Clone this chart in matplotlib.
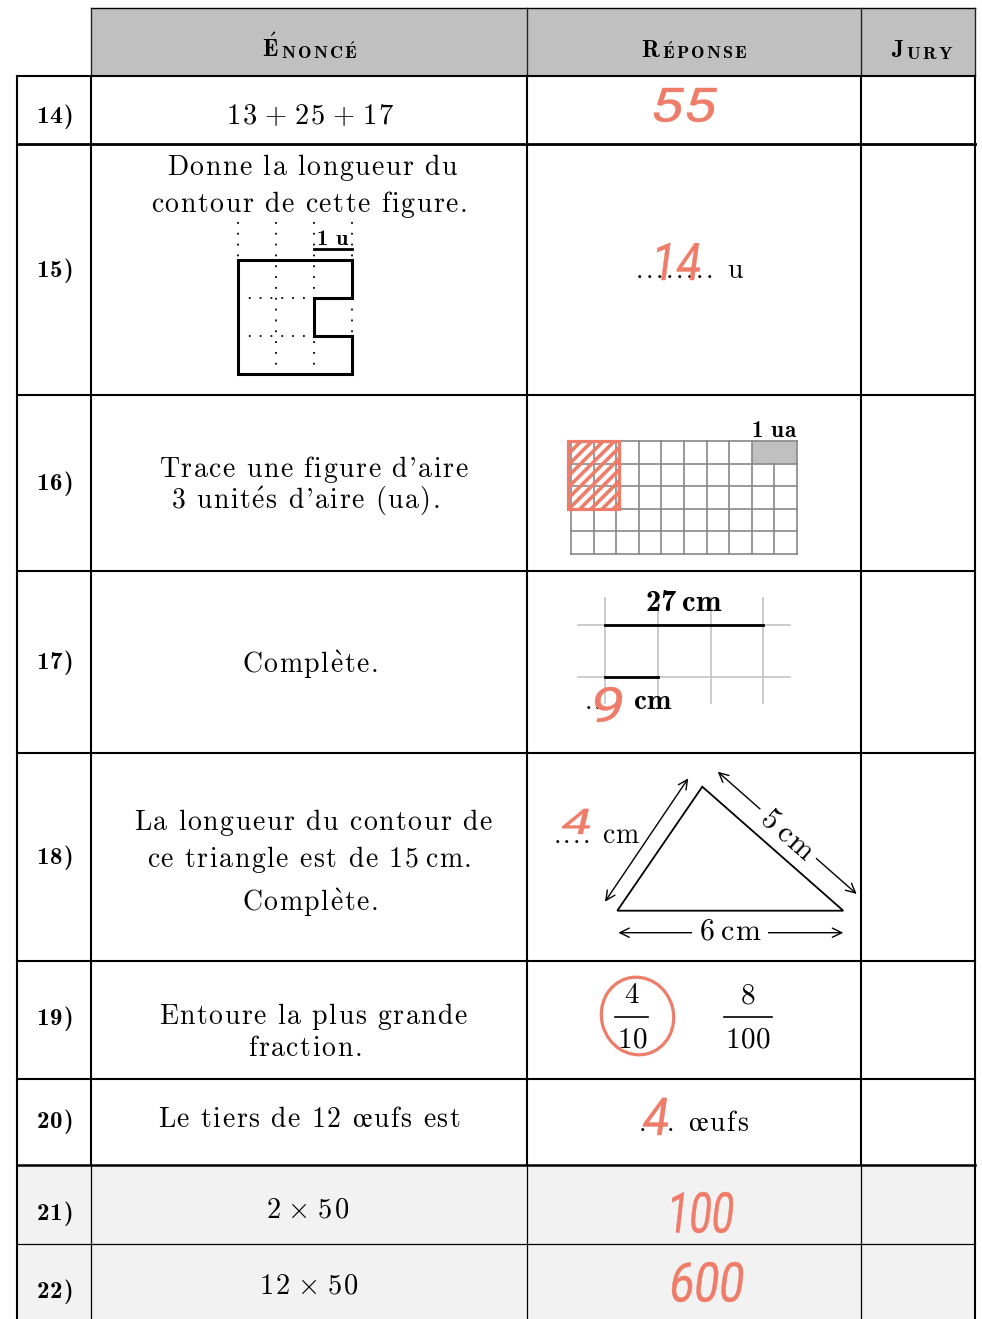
import numpy as np
import matplotlib
matplotlib.use("Agg")
import matplotlib.pyplot as plt
from matplotlib.patches import Rectangle, Polygon, Ellipse, PathPatch
from matplotlib.textpath import TextPath
from matplotlib.font_manager import FontProperties
from matplotlib.transforms import Affine2D

plt.rcParams['mathtext.fontset'] = 'cm'
plt.rcParams['font.family'] = ['cmr10']
plt.rcParams['hatch.linewidth'] = 2.6

SALMON = '#ee7c69'
HEAD_GRAY = '#c0c0c0'
LIGHT = '#f2f2f2'

# ---- table data ----
col_edges = [17, 91, 527, 861, 975]
row_edges = [76, 144, 395, 571, 753, 961, 1079, 1165, 1244, 1319]
header_words = ['Énoncé', 'Réponse', 'Jury']
header_x = [310, 695, 922]

labels = ['14)', '15)', '16)', '17)', '18)', '19)', '20)', '21)', '22)']
label_base = [123, 277, 490, 669, 864, 1025, 1128, 1220, 1298]

statements = [
    ['13+25+17'],
    ['Donne la longueur du', 'contour de cette figure.'],
    ["Trace une figure d'aire", "3 unités d'aire (ua)."],
    ['Complète.'],
    ['La longueur du contour de', 'ce triangle est de 15\u2009cm.', 'Complète.'],
    ['Entoure la plus grande', 'fraction.'],
    ['Le tiers de 12 œufs est'],
    ['2×50'],
    ['12×50'],
]
stmt_base = [[124], [175, 212], [477, 509], [673], [830, 867, 911], [1024, 1056], [1127], [1217], [1293]]
stmt_x = [[310], [313, 309], [314, 305], [310], [314, 309, 310], [314, 305], [309], [308], [309]]

# handwritten answers and their ink boxes (left, top, right, bottom)
answers = ['55', '14', '9', '4', '4', '100', '600']
answer_box = [(654, 88, 717, 122), (657, 243, 700, 280), (595, 687, 622, 722),
              (562, 809, 590, 834), (643, 1098, 668, 1135),
              (672, 1192, 733, 1233), (672, 1262, 743, 1302)]

fractions = [('4', '10'), ('8', '100')]
fraction_x = [632, 748]

ACC = {'é': r'\acute{e}', 'è': r'\grave{e}', 'É': r'\acute{E}', 'œ': r'\oe'}


def tex(s, trk=0.07):
    # regular Computer Modern with a little letter spacing
    pieces = []
    for ch in s:
        if ch == ' ':
            pieces.append(r'\ ')
        elif ch == '\u2009':
            pieces.append(r'\,')
        elif ch == "'":
            pieces.append("$'$")
        elif ch == '+':
            pieces.append('+')
        elif ch == '×':
            pieces.append(r'\times')
        elif ch in ACC:
            pieces.append(r'\mathrm{' + ACC[ch] + '}')
        else:
            pieces.append(r'\mathrm{' + ch + '}')
    return '$' + (r'\hspace{%.3f}' % trk).join(pieces) + '$'


def btex(s, trk=0.03):
    # bold: plain text in cmb10, spacing via math hspace
    pieces = []
    for ch in s:
        if ch == 'É':
            pieces.append(r'$\mathbf{\acute{E}}$')
        elif ch == '\u2009':
            pieces.append(r'$\,$')
        else:
            pieces.append(ch)
    return (r'$\hspace{%.3f}$' % trk).join(pieces)


fig = plt.figure(figsize=(9.82, 13.19), dpi=100)
ax = fig.add_axes([0, 0, 1, 1])
ax.set_xlim(0, 982)
ax.set_ylim(1319, 0)
ax.axis('off')

HAND_FP = FontProperties(family=['Roboto', 'DejaVu Sans'])


def hand(s, box, slant=9):
    x0, y0, x1, y1 = box
    p = TextPath((0, 0), s, size=50, prop=HAND_FP)
    p = p.transformed(Affine2D().skew_deg(slant, 0))
    ext = p.get_extents()
    tr = (Affine2D().translate(-ext.x0, -ext.y0)
          .scale((x1 - x0) / ext.width, -(y1 - y0) / ext.height)
          .translate(x0, y1))
    ax.add_patch(PathPatch(p.transformed(tr), fc=SALMON, ec=SALMON, lw=0.3, zorder=6))


def dots(xs, y, size=19.5):
    for x in xs:
        ax.text(x, y, '.', fontsize=size, ha='center', va='baseline')


# ---- backgrounds ----
ax.add_patch(Rectangle((col_edges[1], 8), col_edges[-1] - col_edges[1], row_edges[0] - 8,
                       fc=HEAD_GRAY, ec='none', zorder=0))
ax.add_patch(Rectangle((col_edges[0], row_edges[7]), col_edges[-1] - col_edges[0],
                       row_edges[-1] - row_edges[7], fc=LIGHT, ec='none', zorder=0))

# ---- borders ----
LW = 1.5
ax.plot([col_edges[1], col_edges[-1]], [8, 8], color='black', lw=1.0, zorder=3)
for x in col_edges[1:]:
    ax.plot([x, x], [8, row_edges[0]], color='#222222', lw=1.0, zorder=3)
for i, y in enumerate(row_edges[:-1]):
    lw = {1: 2.0, 7: 1.8, 8: 0.9}.get(i, LW)
    ax.plot([col_edges[0], col_edges[-1]], [y, y], color='black', lw=lw, zorder=3,
            solid_capstyle='projecting')
for j, x in enumerate(col_edges):
    outer = j in (0, len(col_edges) - 1)
    ax.plot([x, x], [row_edges[0], row_edges[7]], color='black', lw=LW, zorder=3)
    ax.plot([x, x], [row_edges[7], row_edges[-1]], color='black',
            lw=LW if outer else 0.9, zorder=3)

# ---- header (small caps) ----
renderer = fig.canvas.get_renderer()
for word, xc in zip(header_words, header_x):
    big = ax.text(0, 57, btex(word[0]), family='cmb10', fontsize=17,
                  ha='left', va='baseline', zorder=4)
    small = ax.annotate(btex(word[1:].upper(), trk=0.14), xy=(1, 0), family='cmb10',
                        xycoords=big, xytext=(2.0, 0), textcoords='offset points',
                        fontsize=13, ha='left', va='bottom', zorder=4)
    wb = big.get_window_extent(renderer).width
    ws = small.get_window_extent(renderer).width
    big.set_x(xc - (wb + 2.8 + ws) / 2)

# ---- labels and statements ----
for lab, yb in zip(labels, label_base):
    ax.text(54, yb, btex(lab, trk=0.05), family='cmb10', fontsize=18,
            ha='center', va='baseline')

for lines, ys, xs in zip(statements, stmt_base, stmt_x):
    for s, yb, xc in zip(lines, ys, xs):
        math = '×' in s or '+' in s
        ax.text(xc, yb, tex(s, trk=0.1 if math else 0.065),
                fontsize=20.5 if math else 20, ha='center', va='baseline')

# ---- row 15: contour figure ----
u = 38.0
fx, fy = 237.7, 260.0
dot_style = dict(color='black', lw=1.3, linestyle=(0, (1, 5)), zorder=2)
for k in range(4):
    ax.plot([fx + k * u, fx + k * u], [fy - u, fy + 3 * u], **dot_style)
for k in (1, 2):
    ax.plot([fx, fx + 2 * u], [fy + k * u, fy + k * u], **dot_style)
shape = np.array([(0, 0), (3, 0), (3, 1), (2, 1), (2, 2), (3, 2), (3, 3), (0, 3)])
ax.add_patch(Polygon(np.column_stack([fx + shape[:, 0] * u, fy + shape[:, 1] * u]),
                     closed=True, fill=False, ec='black', lw=2.2, joinstyle='miter', zorder=4))
ax.text(fx + 2.5 * u, 245, btex('1 u', trk=0.02), family='cmb10', fontsize=16,
        ha='center', va='baseline')
ax.plot([fx + 2 * u, fx + 3 * u], [248.5, 248.5], color='black', lw=2.0)

dots(640 + 10 * np.arange(8), 278)
ax.text(727, 278, tex('u'), fontsize=20, ha='left', va='baseline')

# ---- row 16: area grid ----
gx, gy, cw, ch = 571.0, 441.0, 22.6, 22.6
ncol, nrow = 10, 5
ax.add_patch(Rectangle((gx + 8 * cw, gy), 2 * cw, ch, fc=HEAD_GRAY, ec='none', zorder=1))
for r in range(nrow + 1):
    ax.plot([gx, gx + ncol * cw], [gy + r * ch, gy + r * ch], color='#888888', lw=1.2, zorder=2)
for c in range(ncol + 1):
    top = gy + ch if c == 9 else gy
    ax.plot([gx + c * cw, gx + c * cw], [top, gy + nrow * ch], color='#888888', lw=1.2, zorder=2)
ax.text(gx + ncol * cw, 437, btex('1 ua', trk=0.02), family='cmb10', fontsize=16.5,
        ha='right', va='baseline')
ax.add_patch(Rectangle((gx - 2.5, gy), 2 * cw + 5, 3 * ch, fill=False, ec=SALMON,
                       lw=2.3, hatch='///', zorder=5))

# ---- row 17: segments ----
sx = 605 + 52.8 * np.arange(4)
for x in sx:
    ax.plot([x, x], [598, 703], color='#c4c4c4', lw=1.2, zorder=1)
for y in (625, 677):
    ax.plot([578, 790], [y, y], color='#c4c4c4', lw=1.2, zorder=1)
ax.plot([sx[0], sx[3]], [625, 625], color='black', lw=2.0, zorder=2)
ax.plot([sx[0], sx[1]], [677, 677], color='black', lw=2.0, zorder=2)
ax.text(684, 611, btex('27\u2009cm', trk=0.02), family='cmb10', fontsize=22,
        ha='center', va='baseline')
dots([589, 598], 709)
ax.text(633, 709, btex('cm', trk=0.03), family='cmb10', fontsize=21, ha='left', va='baseline')

# ---- row 18: triangle ----
tri = np.array([(617.3, 910.7), (843.3, 910.7), (702.3, 786.7)])
ax.add_patch(Polygon(tri, closed=True, fill=False, ec='black', lw=1.3, joinstyle='miter', zorder=5))
arrow = dict(arrowstyle='<->,head_length=0.45,head_width=0.22', lw=1.0, color='black',
             shrinkA=0, shrinkB=0, mutation_scale=15)
ax.annotate('', xy=(688.3, 778.3), xytext=(605, 901.7), arrowprops=arrow, zorder=3)
ax.annotate('', xy=(856.7, 894), xytext=(717.7, 771.7), arrowprops=arrow, zorder=3)
ax.annotate('', xy=(843.3, 932.7), xytext=(618.3, 932.7), arrowprops=arrow, zorder=3)
ax.text(787, 835, tex('5\u2009cm', trk=0.05), fontsize=21.5, ha='center', va='center',
        rotation=-41.3, rotation_mode='anchor', zorder=4,
        bbox=dict(fc='white', ec='none', pad=4))
ax.text(730, 932, tex('6\u2009cm', trk=0.05), fontsize=21.5, ha='center', va='center', zorder=4,
        bbox=dict(fc='white', ec='none', pad=5))
dots([558, 567, 577, 587], 843)
ax.text(602, 843, tex('cm', trk=0.06), fontsize=20, ha='left', va='baseline')

# ---- row 19: fractions ----
for (num, den), xc in zip(fractions, fraction_x):
    half = 1.5 + 7.5 * len(den)
    ax.text(xc, 1003, tex(num), fontsize=21, ha='center', va='baseline')
    ax.text(xc, 1047, tex(den, trk=0.03), fontsize=21, ha='center', va='baseline')
    ax.plot([xc - half, xc + half], [1016.5, 1016.5], color='black', lw=1.2)
ax.add_patch(Ellipse((637.5, 1016), 72, 78, angle=-15, fill=False, ec=SALMON, lw=2.3, zorder=5))

# ---- row 20 ----
dots([643, 671], 1131)
ax.text(688, 1131, tex('œufs'), fontsize=20, ha='left', va='baseline')

# ---- handwritten answers ----
for s, box in zip(answers, answer_box):
    hand(s, box)

fig.savefig('out.png', dpi=100)
